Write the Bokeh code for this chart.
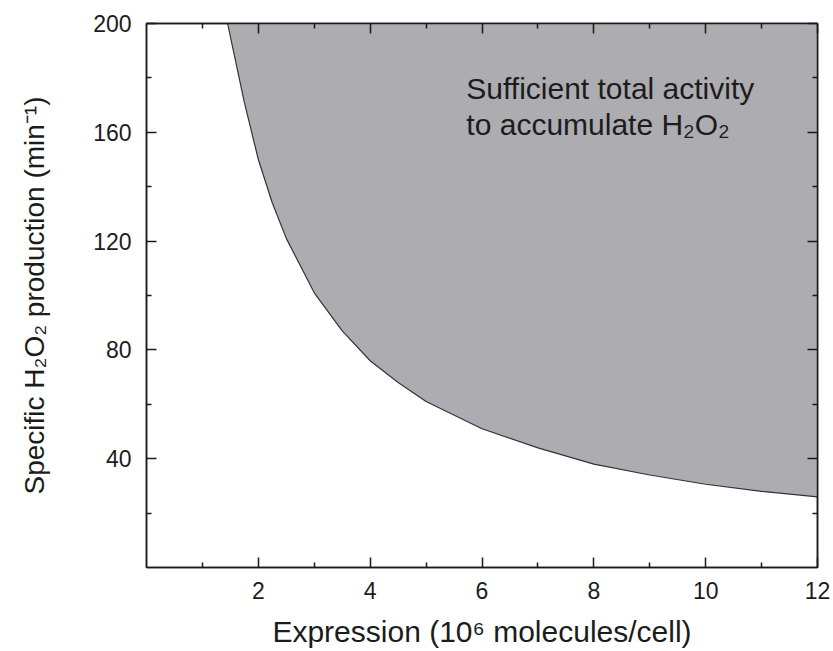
from bokeh.plotting import figure
from bokeh.models import FixedTicker, LinearAxis, Range1d, Label
from bokeh.embed import file_html
from bokeh.resources import INLINE

# Boundary of the shaded region
expression = [1.45, 1.75, 2.0, 2.25, 2.5, 3.0, 3.5, 4.0, 4.5, 5.0, 6.0, 7.0, 8.0, 9.0, 10.0, 11.0, 12.0]
production = [200, 171, 150, 134, 121, 101, 87, 76, 68, 61, 51, 44, 38, 34, 30.6, 28, 26]

x_ticks = [2, 4, 6, 8, 10, 12]
x_minor = [1, 3, 5, 7, 9, 11]
y_ticks = [40, 80, 120, 160, 200]
y_minor = [20, 60, 100, 140, 180]
x_lim = (0, 12)
y_lim = (0, 200)

annotation_lines = ["Sufficient total activity", "to accumulate H\u2082O\u2082"]
x_title = "Expression (10\u2076 molecules/cell)"
y_title = "Specific H\u2082O\u2082 production (min\u207b\u00b9)"

FONT = "Liberation Sans"
TXT = "#1c1c1c"

p = figure(width=833, height=651, output_backend="svg", toolbar_location=None,
           x_range=Range1d(*x_lim), y_range=Range1d(*y_lim),
           min_border_left=146, min_border_right=16, min_border_top=23, min_border_bottom=84,
           x_axis_location=None, y_axis_location=None)
p.grid.visible = False
p.background_fill_color = "white"
p.border_fill_color = "white"
p.outline_line_color = "#1a1a1a"
p.outline_line_width = 1.5

p.varea(x=expression, y1=production, y2=[y_lim[1]] * len(expression),
        fill_color="#acacb1", fill_alpha=1.0)
p.line(expression, production, line_color="#333333", line_width=1.2)

def make_axis(ticks, minor, labels=True):
    ax = LinearAxis(ticker=FixedTicker(ticks=ticks, minor_ticks=minor))
    ax.major_tick_in = 10
    ax.major_tick_out = 0
    ax.minor_tick_in = 5
    ax.minor_tick_out = 0
    ax.axis_line_color = "#1a1a1a"
    ax.axis_line_width = 1.5
    ax.major_tick_line_color = "#1a1a1a"
    ax.major_tick_line_width = 1.5
    ax.minor_tick_line_color = "#1a1a1a"
    ax.minor_tick_line_width = 1.5
    if labels:
        ax.major_label_text_font = FONT
        ax.major_label_text_font_size = "23px"
        ax.major_label_text_color = TXT
        ax.major_label_standoff = 14
        ax.axis_label_text_font = FONT
        ax.axis_label_text_font_style = "normal"
        ax.axis_label_text_color = TXT
    else:
        ax.major_label_text_font_size = "0px"
        ax.major_label_standoff = 0
    return ax

xb = make_axis(x_ticks, x_minor)
xb.axis_label = x_title
xb.axis_label_text_font_size = "30px"
xb.axis_label_standoff = 13
p.add_layout(xb, "below")

yl = make_axis(y_ticks, y_minor)
yl.major_label_standoff = 15
yl.axis_label = y_title
yl.axis_label_text_font_size = "28px"
yl.axis_label_standoff = 40
p.add_layout(yl, "left")

p.add_layout(make_axis(x_ticks, x_minor, labels=False), "above")
p.add_layout(make_axis(y_ticks, y_minor, labels=False), "right")

for txt, yy in zip(annotation_lines, [176.2, 163.0]):
    p.add_layout(Label(x=5.72, y=yy, text=txt, text_font=FONT, text_font_size="30px",
                       text_color=TXT, text_baseline="alphabetic", text_align="left"))

open("out.html", "w").write(file_html(p, INLINE))
